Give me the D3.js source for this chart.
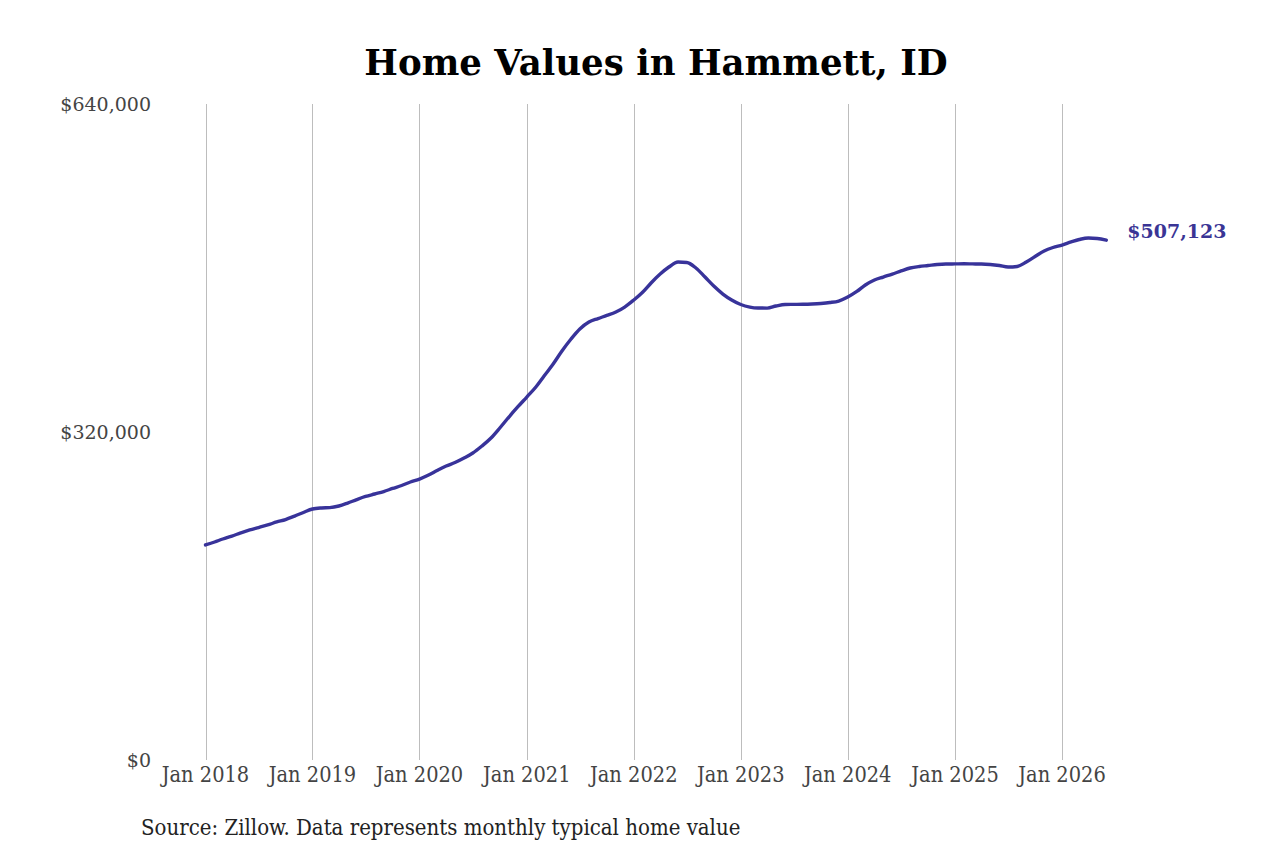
<!DOCTYPE html>
<html>
<head>
<meta charset="utf-8">
<script src="https://cdn.jsdelivr.net/npm/d3@7"></script>
<style>
  html, body { margin: 0; padding: 0; background: #fff; }
  svg { display: block; }
  .title { font-family: "DejaVu Serif", serif; font-weight: bold; font-size: 35.6px; fill: #000; }
  .ylab { font-family: "DejaVu Serif", serif; font-size: 19px; fill: #444; }
  .xlab { font-family: "DejaVu Serif Condensed", "DejaVu Serif", serif; font-stretch: condensed; font-size: 21.6px; fill: #444; }
  .source { font-family: "DejaVu Serif Condensed", "DejaVu Serif", serif; font-stretch: condensed; font-size: 22px; fill: #222; }
  .endlab { font-family: "DejaVu Serif", serif; font-weight: bold; font-size: 19px; fill: #3a3595; }
  .grid line { stroke: #bdbdbd; stroke-width: 1; }
</style>
</head>
<body>
<div id="chart"></div>
<script>
/* monthly typical home value, Jan 2018 .. Jun 2026 */
const startMonth = '2018-01';
const values2018 = [209800, 212700, 215600, 218500, 221500, 224400, 226800, 229300, 232200, 234600, 238000, 241500];
const values2019 = [244900, 245900, 246200, 247800, 250700, 254100, 257100, 259500, 261900, 264900, 267800, 271200];
const values2020 = [274100, 278000, 282400, 286800, 290200, 294600, 299500, 306300, 314100, 323900, 334600, 344400];
const values2021 = [354100, 363900, 374600, 386300, 399000, 410700, 420500, 427300, 430700, 433700, 437100, 441900];
const values2022 = [448800, 456600, 465400, 474100, 481000, 485800, 485400, 480000, 471200, 462400, 454600, 448800];
const values2023 = [444400, 441900, 441000, 440900, 442900, 444400, 444500, 444600, 444900, 445400, 446300, 447800];
const values2024 = [451700, 457100, 463400, 468300, 471200, 474100, 477100, 480000, 481500, 482400, 483400, 483900];
const values2025 = [484000, 484100, 484000, 483900, 483400, 482400, 481000, 481500, 485800, 491200, 496600, 500000];
const values2026 = [502400, 505400, 507800, 509300, 508800, 507123];

const yTicks = [0, 320000, 640000];
const xTickYears = [2018, 2019, 2020, 2021, 2022, 2023, 2024, 2025, 2026];
const titleText = 'Home Values in Hammett, ID';
const sourceText = 'Source: Zillow. Data represents monthly typical home value';

const W = 1280, H = 853;
const values = [].concat(values2018, values2019, values2020, values2021, values2022,
                         values2023, values2024, values2025, values2026);
const parseMonth = d3.timeParse('%Y-%m');
const t0 = parseMonth(startMonth);
const data = values.map((v, i) => ({ date: d3.timeMonth.offset(t0, i), value: v }));

const x = d3.scaleTime()
  .domain([data[0].date, data[data.length - 1].date])
  .range([205.5, 1106.3]);
const y = d3.scaleLinear().domain([0, 640000]).range([760, 104]);

const svg = d3.select('#chart').append('svg')
  .attr('width', W).attr('height', H)
  .attr('viewBox', `0 0 ${W} ${H}`);

svg.append('text').attr('class', 'title')
  .attr('x', 656).attr('y', 75).attr('text-anchor', 'middle')
  .text(titleText);

/* vertical gridlines at each January */
const xTickDates = xTickYears.map(yr => new Date(yr, 0, 1));
svg.append('g').attr('class', 'grid')
  .selectAll('line').data(xTickDates).join('line')
  .attr('x1', d => Math.round(x(d)) + 0.5).attr('x2', d => Math.round(x(d)) + 0.5)
  .attr('y1', y(640000)).attr('y2', y(0));

/* y labels */
const fmt = d3.format('$,');
svg.append('g').selectAll('text').data(yTicks).join('text')
  .attr('class', 'ylab')
  .attr('x', 151).attr('y', d => y(d))
  .attr('dy', '0.35em').attr('text-anchor', 'end')
  .text(d => fmt(d));

/* x labels */
svg.append('g').selectAll('text').data(xTickDates).join('text')
  .attr('class', 'xlab')
  .attr('x', d => x(d)).attr('y', 782)
  .attr('text-anchor', 'middle')
  .text(d3.timeFormat('Jan %Y'));

/* line */
const line = d3.line()
  .x(d => x(d.date)).y(d => y(d.value))
  .curve(d3.curveMonotoneX);
svg.append('path').datum(data)
  .attr('fill', 'none').attr('stroke', '#38339a')
  .attr('stroke-width', 3.4).attr('stroke-linejoin', 'round').attr('stroke-linecap', 'round')
  .attr('d', line);

const last = data[data.length - 1];
svg.append('text').attr('class', 'endlab')
  .attr('x', x(last.date) + 21).attr('y', y(last.value) - 9)
  .attr('dy', '0.35em')
  .text(fmt(last.value));

svg.append('text').attr('class', 'source')
  .attr('x', 141).attr('y', 835)
  .text(sourceText);
</script>
</body>
</html>
